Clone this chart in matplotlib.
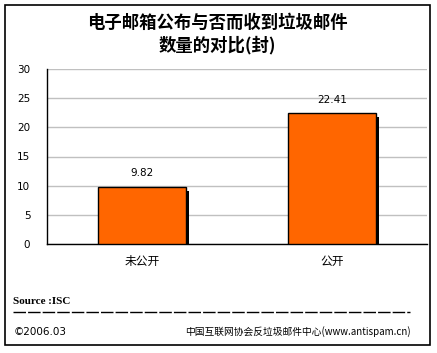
import matplotlib
matplotlib.use("Agg")
import matplotlib.pyplot as plt
from matplotlib.lines import Line2D
from matplotlib.patches import Rectangle
from matplotlib.transforms import ScaledTranslation

plt.rcParams["font.family"] = ["Noto Sans CJK SC", "DejaVu Sans"]

categories = ["未公开", "公开"]
values = [9.82, 22.41]
value_labels = ["9.82", "22.41"]
yticks = [0, 5, 10, 15, 20, 25, 30]

title = "电子邮箱公布与否而收到垃圾邮件\n数量的对比(封)"
source = "Source :ISC"
copyright_txt = "©2006.03"
org = "中国互联网协会反垃圾邮件中心(www.antispam.cn)"

W, H = 437, 353
fig = plt.figure(figsize=(W / 100, H / 100), dpi=100)
fig.patch.set_facecolor("white")

# outer frame
fig.add_artist(Rectangle((5 / W, 1 - 345 / H), 425 / W, 340 / H,
                         transform=fig.transFigure, fill=False,
                         edgecolor="black", linewidth=1.2))

ax = fig.add_axes([47 / W, 1 - 244 / H, 380 / W, 175 / H])
x = list(range(len(categories)))

# drop shadow, shifted right and down
shadow = ScaledTranslation(3 / 100, -4 / 100, fig.dpi_scale_trans)
ax.bar(x, values, width=0.46, color="black", zorder=2,
       transform=ax.transData + shadow)
ax.bar(x, values, width=0.46, color="#ff6600", edgecolor="black",
       linewidth=1.0, zorder=3)

for xi, v, lab in zip(x, values, value_labels):
    ax.annotate(lab, (xi, v), xytext=(0, 6), textcoords="offset points",
                ha="center", va="bottom", fontsize=7.5, family="DejaVu Sans")

ax.set_xlim(-0.5, 1.5)
ax.set_ylim(0, 30)
ax.set_yticks(yticks)
ax.set_yticklabels([str(t) for t in yticks], fontsize=7.5, family="DejaVu Sans")
ax.set_xticks(x)
ax.set_xticklabels(categories, fontsize=8.5)
ax.tick_params(axis="both", length=0, pad=12)
ax.tick_params(axis="x", pad=8)
ax.yaxis.grid(True, color="#c0c0c0", linewidth=1.0, zorder=0)
ax.set_axisbelow(True)
for side in ["top", "right"]:
    ax.spines[side].set_visible(False)
for side in ["left", "bottom"]:
    ax.spines[side].set_color("black")
    ax.spines[side].set_linewidth(1.0)

fig.text(217 / W, 1 - 34 / H, title, ha="center", va="center",
         fontsize=12.5, fontweight="bold", linespacing=1.25)

fig.text(13 / W, 1 - 302 / H, source, ha="left", va="center",
         fontsize=8, fontweight="bold", family="Liberation Serif")
fig.add_artist(Line2D([13 / W, 410 / W], [1 - 312 / H, 1 - 312 / H],
                      transform=fig.transFigure, color="black",
                      linewidth=1.0, dashes=(9, 1.5)))
fig.text(14 / W, 1 - 332 / H, copyright_txt, ha="left", va="center",
         fontsize=7.5, family=["DejaVu Sans"])
fig.text(185 / W, 1 - 332 / H, org, ha="left", va="center", fontsize=7)

fig.savefig("out.png", dpi=100)
